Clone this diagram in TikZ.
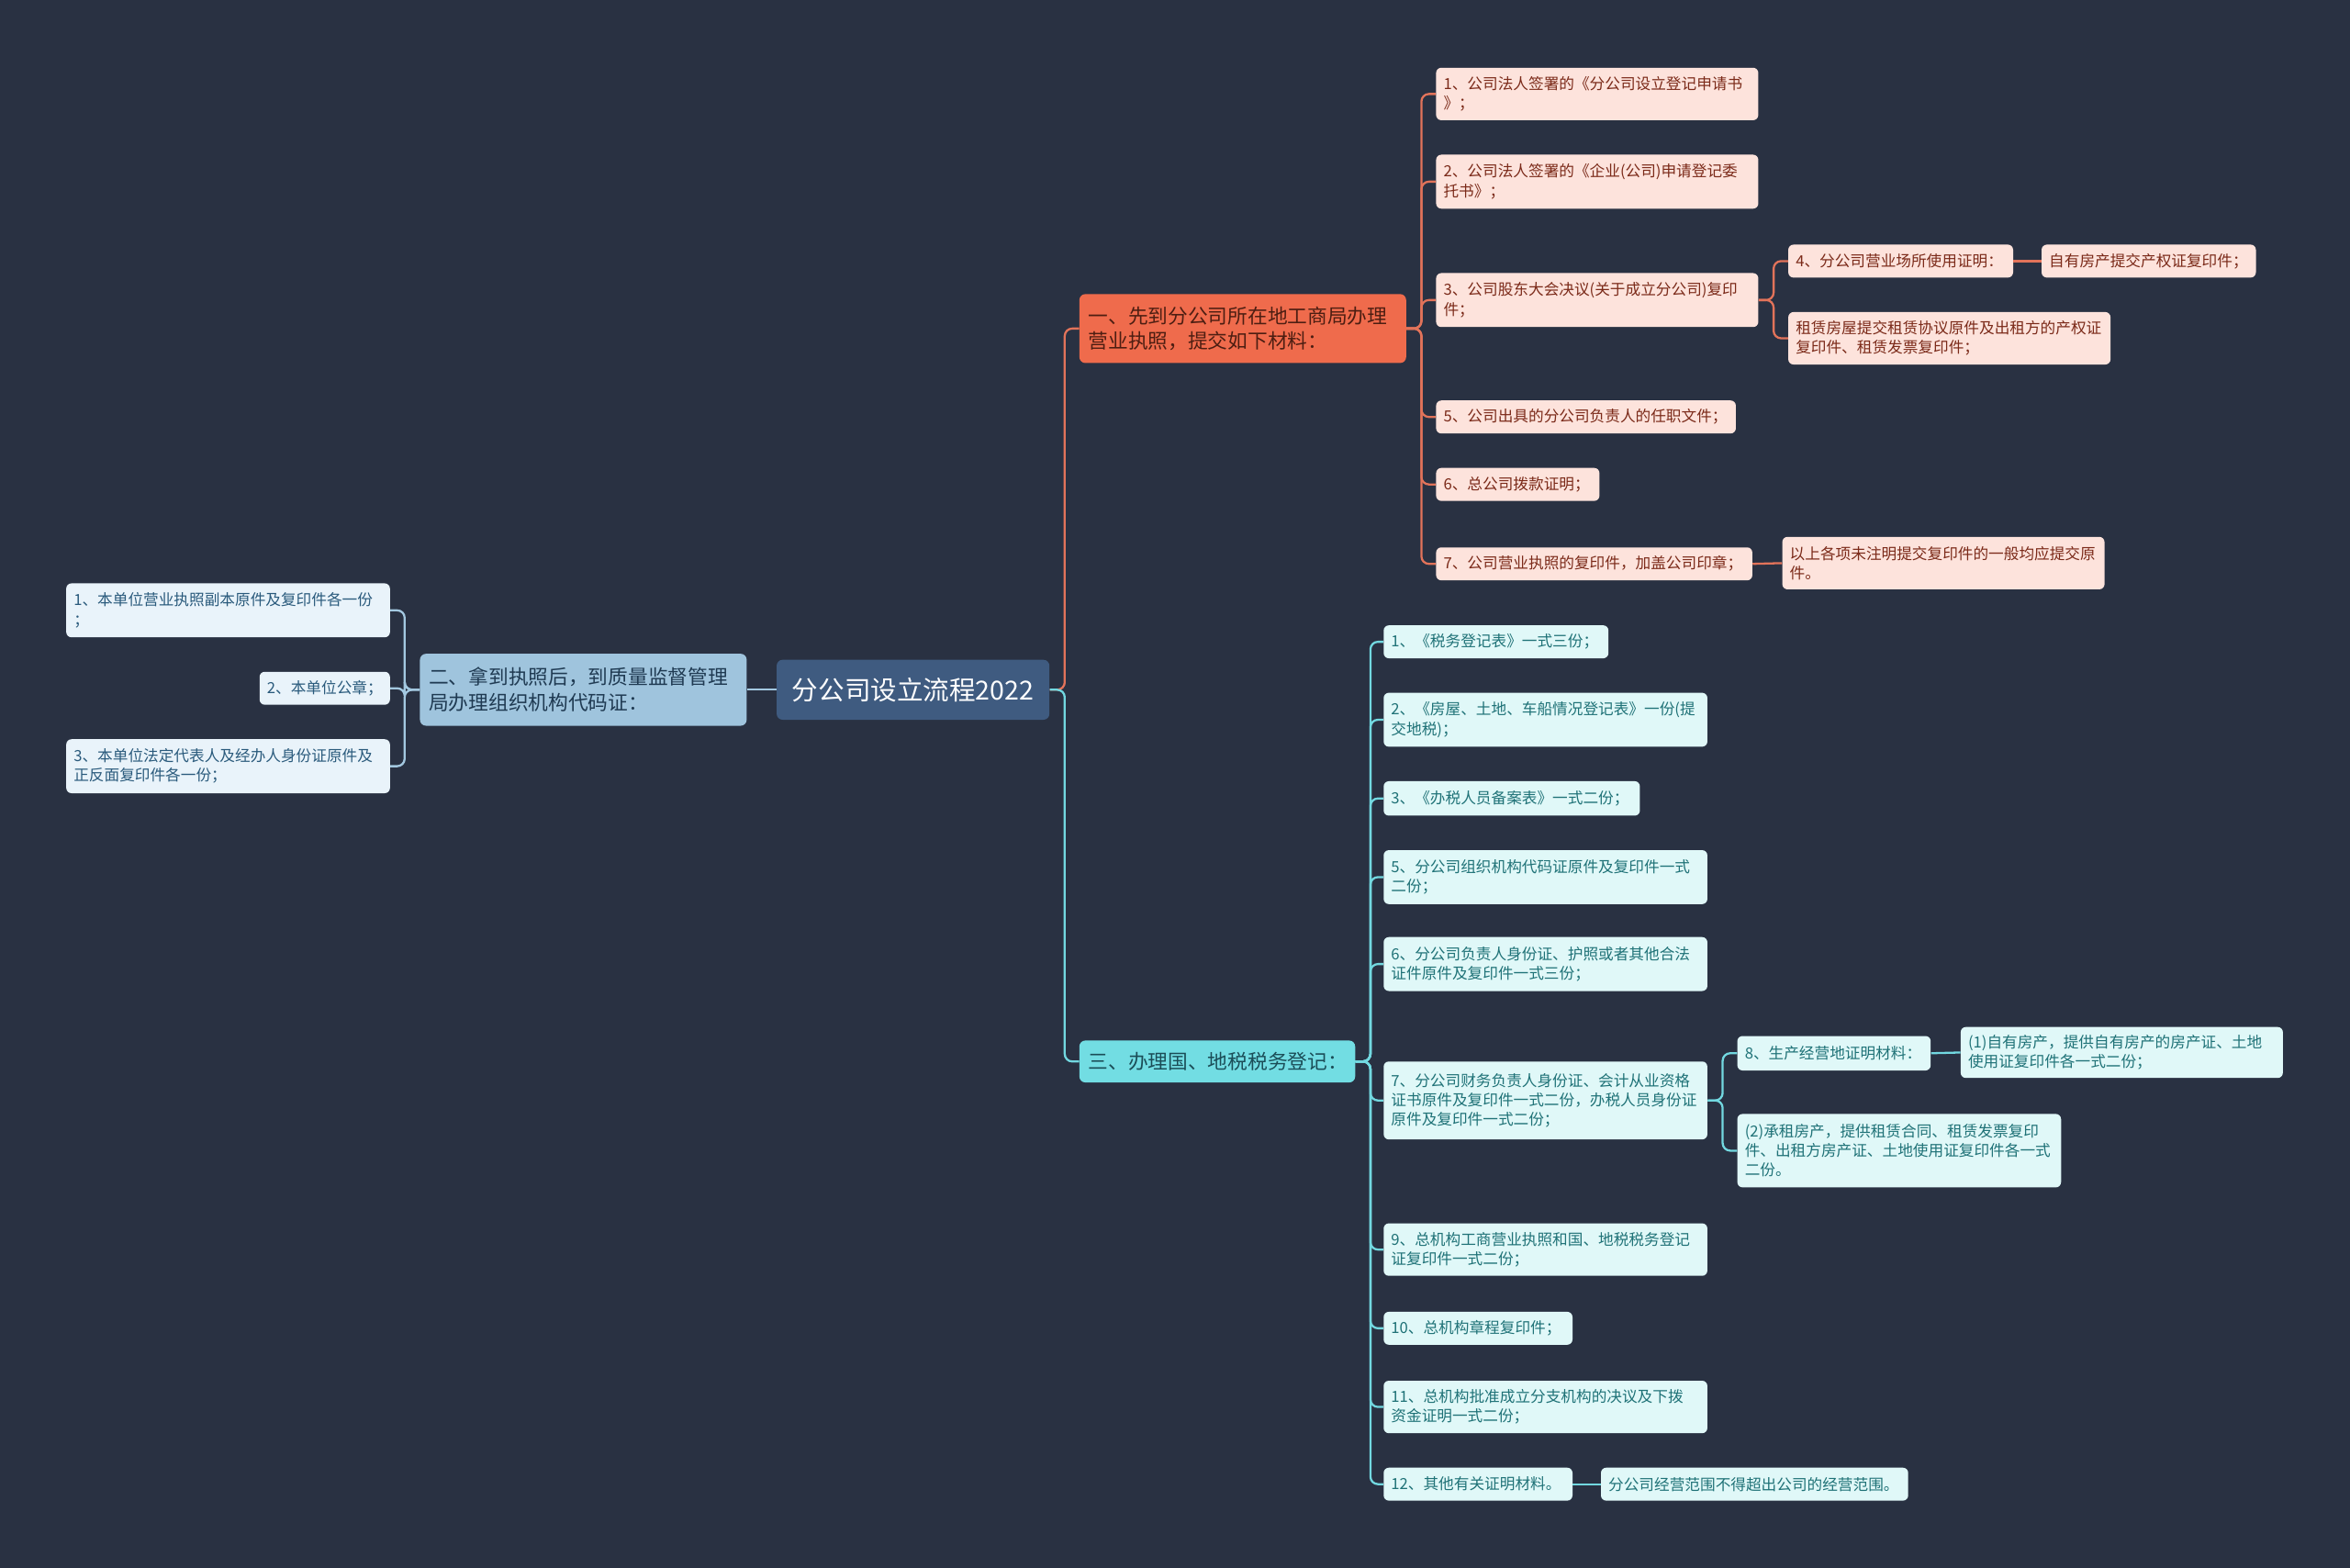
\documentclass[tikz,border=0pt]{standalone}
\usepackage{fontspec}
\setmainfont{Noto Sans CJK SC}
\definecolor{bg}{HTML}{293142}
\definecolor{rootfill}{HTML}{3F5B80}
\definecolor{bAfill}{HTML}{EF6B4C}
\definecolor{bAtext}{HTML}{4D1E12}
\definecolor{lAfill}{HTML}{FDE3DC}
\definecolor{lAtext}{HTML}{7B2A19}
\definecolor{bBfill}{HTML}{9FC4DD}
\definecolor{bBtext}{HTML}{1F3A52}
\definecolor{lBfill}{HTML}{E9F3FA}
\definecolor{lBtext}{HTML}{2A5A7C}
\definecolor{bCfill}{HTML}{72DDE3}
\definecolor{bCtext}{HTML}{1B4D57}
\definecolor{lCfill}{HTML}{E0F8F8}
\definecolor{lCtext}{HTML}{1F7277}
\definecolor{cA}{HTML}{E2735A}
\definecolor{cB}{HTML}{A3C8E0}
\definecolor{cC}{HTML}{72D8E0}
\newcommand\mmnode[8]{%
  \pgfmathsetlengthmacro\mmw{(#5)-(#3)}%
  \pgfmathsetlengthmacro\mmh{(#6)-(#4)}%
  \pgfmathsetlengthmacro\mmtw{(#5)-(#3)-2*(#7)}%
  \node[#1, anchor=north west, minimum width=\mmw, minimum height=\mmh,
        text width=\mmtw, inner xsep=#7pt, inner ysep=0pt] (#2) at (#3,#4) {#8};}
\tikzset{
  rootbox/.style={fill=rootfill, text=white, rounded corners=4pt, align=center,
    font=\fontsize{17.5pt}{21pt}\selectfont},
  brA/.style={fill=bAfill, text=bAtext, rounded corners=4pt, align=left,
    font=\fontsize{13.3pt}{17pt}\selectfont},
  brB/.style={fill=bBfill, text=bBtext, rounded corners=4pt, align=left,
    font=\fontsize{13.3pt}{17pt}\selectfont},
  brC/.style={fill=bCfill, text=bCtext, rounded corners=4pt, align=left,
    font=\fontsize{13.3pt}{17pt}\selectfont},
  lfA/.style={fill=lAfill, text=lAtext, rounded corners=3.5pt, align=left,
    font=\fontsize{10.2pt}{13pt}\selectfont},
  lfB/.style={fill=lBfill, text=lBtext, rounded corners=3.5pt, align=left,
    font=\fontsize{10.2pt}{13pt}\selectfont},
  lfC/.style={fill=lCfill, text=lCtext, rounded corners=3.5pt, align=left,
    font=\fontsize{10.2pt}{13pt}\selectfont},
  conA/.style={draw=cA, line width=1.4pt, rounded corners=5pt},
  conB/.style={draw=cB, line width=1.4pt, rounded corners=5pt},
  conC/.style={draw=cC, line width=1.4pt, rounded corners=5pt},
}
\begin{document}
\begin{tikzpicture}[x=1pt,y=-1pt]
\fill[bg] (0,0) rectangle (1568,1046);
\useasboundingbox (0,0) rectangle (1568,1046);

% root and branches
\mmnode{rootbox}{root}{518}{440}{700}{480}{9}{分公司设立流程2022}
\mmnode{brA}{bA}{720}{196}{938}{242}{6}{一、先到分公司所在地工商局办理\\营业执照，提交如下材料：}
\mmnode{brB}{bB}{280}{436}{498}{484}{6}{二、拿到执照后，到质量监督管理\\局办理组织机构代码证：}
\mmnode{brC}{bC}{720}{694}{904}{722}{6}{三、办理国、地税税务登记：}

% branch A leaves
\mmnode{lfA}{a1}{958}{45}{1173}{80}{5}{1、公司法人签署的《分公司设立登记申请书\\》；}
\mmnode{lfA}{a2}{958}{103}{1173}{139}{5}{2、公司法人签署的《企业(公司)申请登记委\\托书》；}
\mmnode{lfA}{a3}{958}{182}{1173}{218}{5}{3、公司股东大会决议(关于成立分公司)复印\\件；}
\mmnode{lfA}{a5}{958}{267}{1158}{289}{5}{5、公司出具的分公司负责人的任职文件；}
\mmnode{lfA}{a6}{958}{312}{1067}{334}{5}{6、总公司拨款证明；}
\mmnode{lfA}{a7}{958}{365}{1169}{387}{5}{7、公司营业执照的复印件，加盖公司印章；}
\mmnode{lfA}{a4}{1193}{163}{1343}{185}{5}{4、分公司营业场所使用证明：}
\mmnode{lfA}{a4x}{1362}{163}{1505}{185}{5}{自有房产提交产权证复印件；}
\mmnode{lfA}{aR}{1193}{208}{1408}{243}{5}{租赁房屋提交租赁协议原件及出租方的产权证\\复印件、租赁发票复印件；}
\mmnode{lfA}{a7x}{1189}{358}{1404}{393}{5}{以上各项未注明提交复印件的一般均应提交原\\件。}

% branch B leaves
\mmnode{lfB}{b1}{44}{389}{260}{425}{5}{1、本单位营业执照副本原件及复印件各一份\\；}
\mmnode{lfB}{b2}{173}{448}{260}{470}{5}{2、本单位公章；}
\mmnode{lfB}{b3}{44}{493}{260}{529}{5}{3、本单位法定代表人及经办人身份证原件及\\正反面复印件各一份；}

% branch C leaves
\mmnode{lfC}{c1}{923}{417}{1073}{439}{5}{1、《税务登记表》一式三份；}
\mmnode{lfC}{c2}{923}{462}{1139}{498}{5}{2、《房屋、土地、车船情况登记表》一份(提\\交地税)；}
\mmnode{lfC}{c3}{923}{521}{1094}{544}{5}{3、《办税人员备案表》一式二份；}
\mmnode{lfC}{c5}{923}{567}{1139}{603}{5}{5、分公司组织机构代码证原件及复印件一式\\二份；}
\mmnode{lfC}{c6}{923}{625}{1139}{661}{5}{6、分公司负责人身份证、护照或者其他合法\\证件原件及复印件一式三份；}
\mmnode{lfC}{c7}{923}{708}{1139}{760}{5}{7、分公司财务负责人身份证、会计从业资格\\证书原件及复印件一式二份，办税人员身份证\\原件及复印件一式二份；}
\mmnode{lfC}{c8}{1159}{691}{1288}{714}{5}{8、生产经营地证明材料：}
\mmnode{lfC}{c8x}{1308}{685}{1523}{719}{5}{(1)自有房产，提供自有房产的房产证、土地\\使用证复印件各一式二份；}
\mmnode{lfC}{c8y}{1159}{743}{1375}{792}{5}{(2)承租房产，提供租赁合同、租赁发票复印\\件、出租方房产证、土地使用证复印件各一式\\二份。}
\mmnode{lfC}{c9}{923}{816}{1139}{851}{5}{9、总机构工商营业执照和国、地税税务登记\\证复印件一式二份；}
\mmnode{lfC}{c10}{923}{875}{1049}{897}{5}{10、总机构章程复印件；}
\mmnode{lfC}{c11}{923}{921}{1139}{956}{5}{11、总机构批准成立分支机构的决议及下拨\\资金证明一式二份；}
\mmnode{lfC}{c12}{923}{979}{1049}{1001}{5}{12、其他有关证明材料。}
\mmnode{lfC}{c12x}{1068}{979}{1273}{1001}{5}{分公司经营范围不得超出公司的经营范围。}

% connectors
\draw[conA] (root.east) -- ++(10,0) |- (bA.west);
\draw[conC] (root.east) -- ++(10,0) |- (bC.west);
\draw[conB] (root.west) -- (bB.east);
\foreach \n in {a1,a2,a3,a5,a6,a7}{\draw[conA] (bA.east) -- ++(10,0) |- (\n.west);}
\foreach \n in {a4,aR}{\draw[conA] (a3.east) -- ++(10,0) |- (\n.west);}
\draw[conA] (a4.east) -- (a4x.west);
\draw[conA] (a7.east) -- (a7x.west);
\foreach \n in {b1,b2,b3}{\draw[conB] (bB.west) -- ++(-10,0) |- (\n.east);}
\foreach \n in {c1,c2,c3,c5,c6,c7,c9,c10,c11,c12}{\draw[conC] (bC.east) -- ++(10,0) |- (\n.west);}
\foreach \n in {c8,c8y}{\draw[conC] (c7.east) -- ++(10,0) |- (\n.west);}
\draw[conC] (c8.east) -- (c8x.west);
\draw[conC] (c12.east) -- (c12x.west);
\end{tikzpicture}
\end{document}
